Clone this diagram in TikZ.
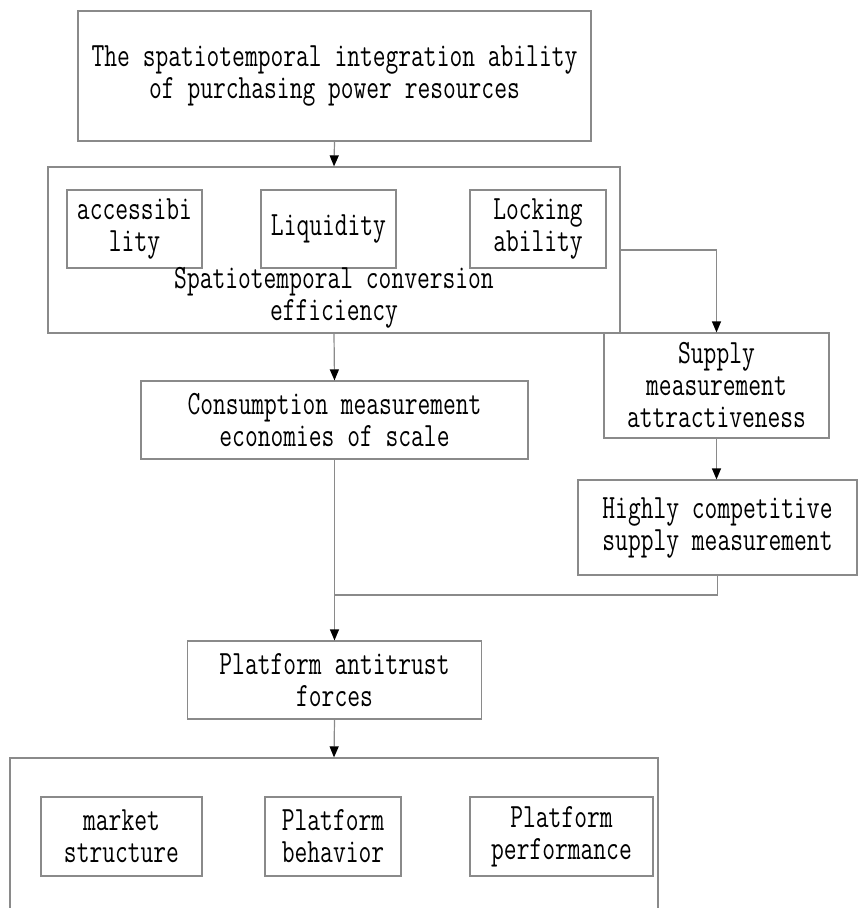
\documentclass[tikz,border=0pt]{standalone}
\usepackage{fontspec}
\usepackage{xcolor}
\usepackage{tikz}
\usetikzlibrary{arrows.meta, positioning}
\newfontfamily\boxfont[FakeStretch=0.73]{Latin Modern Mono}
\definecolor{frameline}{HTML}{8A8A8A}
\tikzset{
    box/.style={draw=frameline, line width=1.2pt, align=center, inner sep=0pt,
        font=\boxfont\fontsize{34}{32}\selectfont},
    link/.style={draw=frameline, line width=1.2pt},
    flow/.style={link, -{Triangle[color=black, length=11pt, width=9pt]}}
}

\begin{document}
\begin{tikzpicture}[x=1pt, y=-1pt]
\useasboundingbox (0,0) rectangle (858,908);
\clip (0,0) rectangle (858,908);

\node[box, minimum width=513pt, minimum height=130pt] (ability) at (334.5,76)
    {The spatiotemporal integration ability\\of purchasing power resources};

\node[box, minimum width=572pt, minimum height=166pt] (conv) at (334,250) {};
\node[box, minimum width=135pt, minimum height=78pt] (access) at (134.5,229) {accessibi\\lity};
\node[box, minimum width=135pt, minimum height=78pt] (liquid) at (328.5,229) {Liquidity};
\node[box, minimum width=136pt, minimum height=78pt] (lock) at (538,229) {Locking\\ability};
\node[box, draw=none] (convlabel) at (334,298) {Spatiotemporal conversion\\efficiency};

\node[box, minimum width=387pt, minimum height=78pt] (scale) at (334.5,420)
    {Consumption measurement\\economies of scale};
\node[box, minimum width=225pt, minimum height=105pt] (attract) at (716.5,385.5)
    {Supply\\measurement\\attractiveness};
\node[box, minimum width=279pt, minimum height=95pt] (compet) at (717.5,527.5)
    {Highly competitive\\supply measurement};
\coordinate (join) at (334.5,595);

\node[box, minimum width=294pt, minimum height=78pt] (force) at (334.5,680)
    {Platform antitrust\\forces};

\node[box, minimum width=648pt, minimum height=190pt] (result) at (334,853) {};
\node[box, minimum width=161pt, minimum height=79pt] (market) at (121.5,836.5) {market\\structure};
\node[box, minimum width=136pt, minimum height=79pt] (behav) at (333,836.5) {Platform\\behavior};
\node[box, minimum width=183pt, minimum height=79pt] (perf) at (561.5,836.5) {Platform\\performance};

\draw[flow] (ability.south) -- (conv.north);
\draw[flow] (conv.south) -- (scale.north);
\draw[flow] (conv.east) -| (attract.north);
\draw[flow] (attract.south) -- (attract.south |- compet.north);
\draw[link] (compet.south) |- (join);
\draw[flow] (scale.south) -- (force.north);
\draw[flow] (force.south) -- (result.north);
\end{tikzpicture}
\end{document}
